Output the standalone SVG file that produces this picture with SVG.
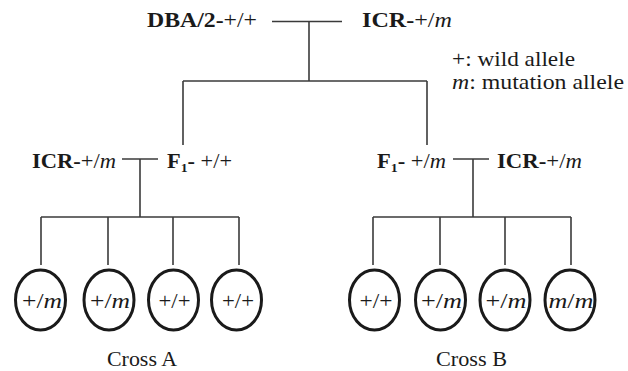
<svg xmlns="http://www.w3.org/2000/svg" width="628" height="371" viewBox="0 0 628 371">
  <style>
    text { font-family: "Liberation Serif", Tinos, "DejaVu Serif", serif; fill: #1a1a1a; }
    .lbl { font-size: 21px; }
    .b { font-weight: bold; }
    .i { font-style: italic; }
    .geno { font-size: 22px; text-anchor: middle; }
    .cap { font-size: 22px; }
    .conn line { stroke: #3a3a3a; stroke-width: 1.6; }
    .off ellipse { fill: none; stroke: #1a1a1a; stroke-width: 3; }
  </style>

  <!-- parental generation -->
  <g id="p-dba">
    <text class="lbl" x="147" y="27" textLength="110" lengthAdjust="spacingAndGlyphs"><tspan class="b">DBA/2-</tspan>+/+</text>
  </g>
  <g id="p-icr">
    <text class="lbl" x="362" y="27" textLength="90" lengthAdjust="spacingAndGlyphs"><tspan class="b">ICR-</tspan>+/<tspan class="i">m</tspan></text>
  </g>

  <!-- legend -->
  <g id="legend">
    <text class="lbl" x="452" y="66" textLength="123" lengthAdjust="spacingAndGlyphs">+: wild allele</text>
    <text class="lbl" x="452" y="89" textLength="172" lengthAdjust="spacingAndGlyphs"><tspan class="i">m</tspan>: mutation allele</text>
  </g>

  <!-- second generation crosses -->
  <g id="a-icr">
    <text class="lbl" x="32" y="168" textLength="84" lengthAdjust="spacingAndGlyphs"><tspan class="b">ICR-</tspan>+/<tspan class="i">m</tspan></text>
  </g>
  <g id="a-f1">
    <text class="lbl" x="167" y="168" textLength="65" lengthAdjust="spacingAndGlyphs"><tspan class="b">F<tspan font-size="13" dy="4">1</tspan><tspan dy="-4">-</tspan></tspan> +/+</text>
  </g>
  <g id="b-f1">
    <text class="lbl" x="377" y="168" textLength="69" lengthAdjust="spacingAndGlyphs"><tspan class="b">F<tspan font-size="13" dy="4">1</tspan><tspan dy="-4">-</tspan></tspan> +/<tspan class="i">m</tspan></text>
  </g>
  <g id="b-icr">
    <text class="lbl" x="497" y="168" textLength="85" lengthAdjust="spacingAndGlyphs"><tspan class="b">ICR-</tspan>+/<tspan class="i">m</tspan></text>
  </g>

  <!-- connectors -->
  <g id="connectors" class="conn">
    <line x1="272" y1="21.5" x2="342" y2="21.5"/>
    <line x1="309" y1="21.5" x2="309" y2="81"/>
    <line x1="183" y1="81" x2="427" y2="81"/>
    <line x1="183" y1="81" x2="183" y2="145"/>
    <line x1="427" y1="81" x2="427" y2="145"/>

    <line x1="122" y1="159" x2="158" y2="159"/>
    <line x1="140" y1="159" x2="140" y2="217"/>
    <line x1="41" y1="217" x2="239" y2="217"/>
    <line x1="41" y1="217" x2="41" y2="265"/>
    <line x1="108" y1="217" x2="108" y2="265"/>
    <line x1="173" y1="217" x2="173" y2="265"/>
    <line x1="239" y1="217" x2="239" y2="265"/>

    <line x1="453" y1="159" x2="489" y2="159"/>
    <line x1="473" y1="159" x2="473" y2="217"/>
    <line x1="373" y1="217" x2="571" y2="217"/>
    <line x1="373" y1="217" x2="373" y2="265"/>
    <line x1="440" y1="217" x2="440" y2="265"/>
    <line x1="505" y1="217" x2="505" y2="265"/>
    <line x1="571" y1="217" x2="571" y2="265"/>
  </g>

  <!-- offspring, cross A -->
  <g id="a1" class="off"><ellipse cx="40.5" cy="300" rx="25" ry="30"/><text class="geno" x="42" y="308" textLength="40" lengthAdjust="spacingAndGlyphs">+/<tspan class="i">m</tspan></text></g>
  <g id="a2" class="off"><ellipse cx="109" cy="300" rx="25" ry="30"/><text class="geno" x="110" y="308" textLength="40" lengthAdjust="spacingAndGlyphs">+/<tspan class="i">m</tspan></text></g>
  <g id="a3" class="off"><ellipse cx="173.5" cy="300" rx="25" ry="30"/><text class="geno" x="174.5" y="308" textLength="32" lengthAdjust="spacingAndGlyphs">+/+</text></g>
  <g id="a4" class="off"><ellipse cx="236.5" cy="300" rx="25" ry="30"/><text class="geno" x="238" y="308" textLength="32" lengthAdjust="spacingAndGlyphs">+/+</text></g>

  <!-- offspring, cross B -->
  <g id="b1" class="off"><ellipse cx="374.5" cy="300" rx="25" ry="30"/><text class="geno" x="376" y="308" textLength="33" lengthAdjust="spacingAndGlyphs">+/+</text></g>
  <g id="b2" class="off"><ellipse cx="440.5" cy="300" rx="25" ry="30"/><text class="geno" x="441.5" y="308" textLength="41" lengthAdjust="spacingAndGlyphs">+/<tspan class="i">m</tspan></text></g>
  <g id="b3" class="off"><ellipse cx="505" cy="300" rx="25" ry="30"/><text class="geno" x="506" y="308" textLength="41" lengthAdjust="spacingAndGlyphs">+/<tspan class="i">m</tspan></text></g>
  <g id="b4" class="off"><ellipse cx="570" cy="300" rx="25" ry="30"/><text class="geno" x="571" y="308" textLength="45" lengthAdjust="spacingAndGlyphs"><tspan class="i">m</tspan>/<tspan class="i">m</tspan></text></g>

  <!-- cross captions -->
  <text class="cap" x="107" y="366" textLength="70" lengthAdjust="spacingAndGlyphs">Cross A</text>
  <text class="cap" x="436" y="366" textLength="71" lengthAdjust="spacingAndGlyphs">Cross B</text>
</svg>
